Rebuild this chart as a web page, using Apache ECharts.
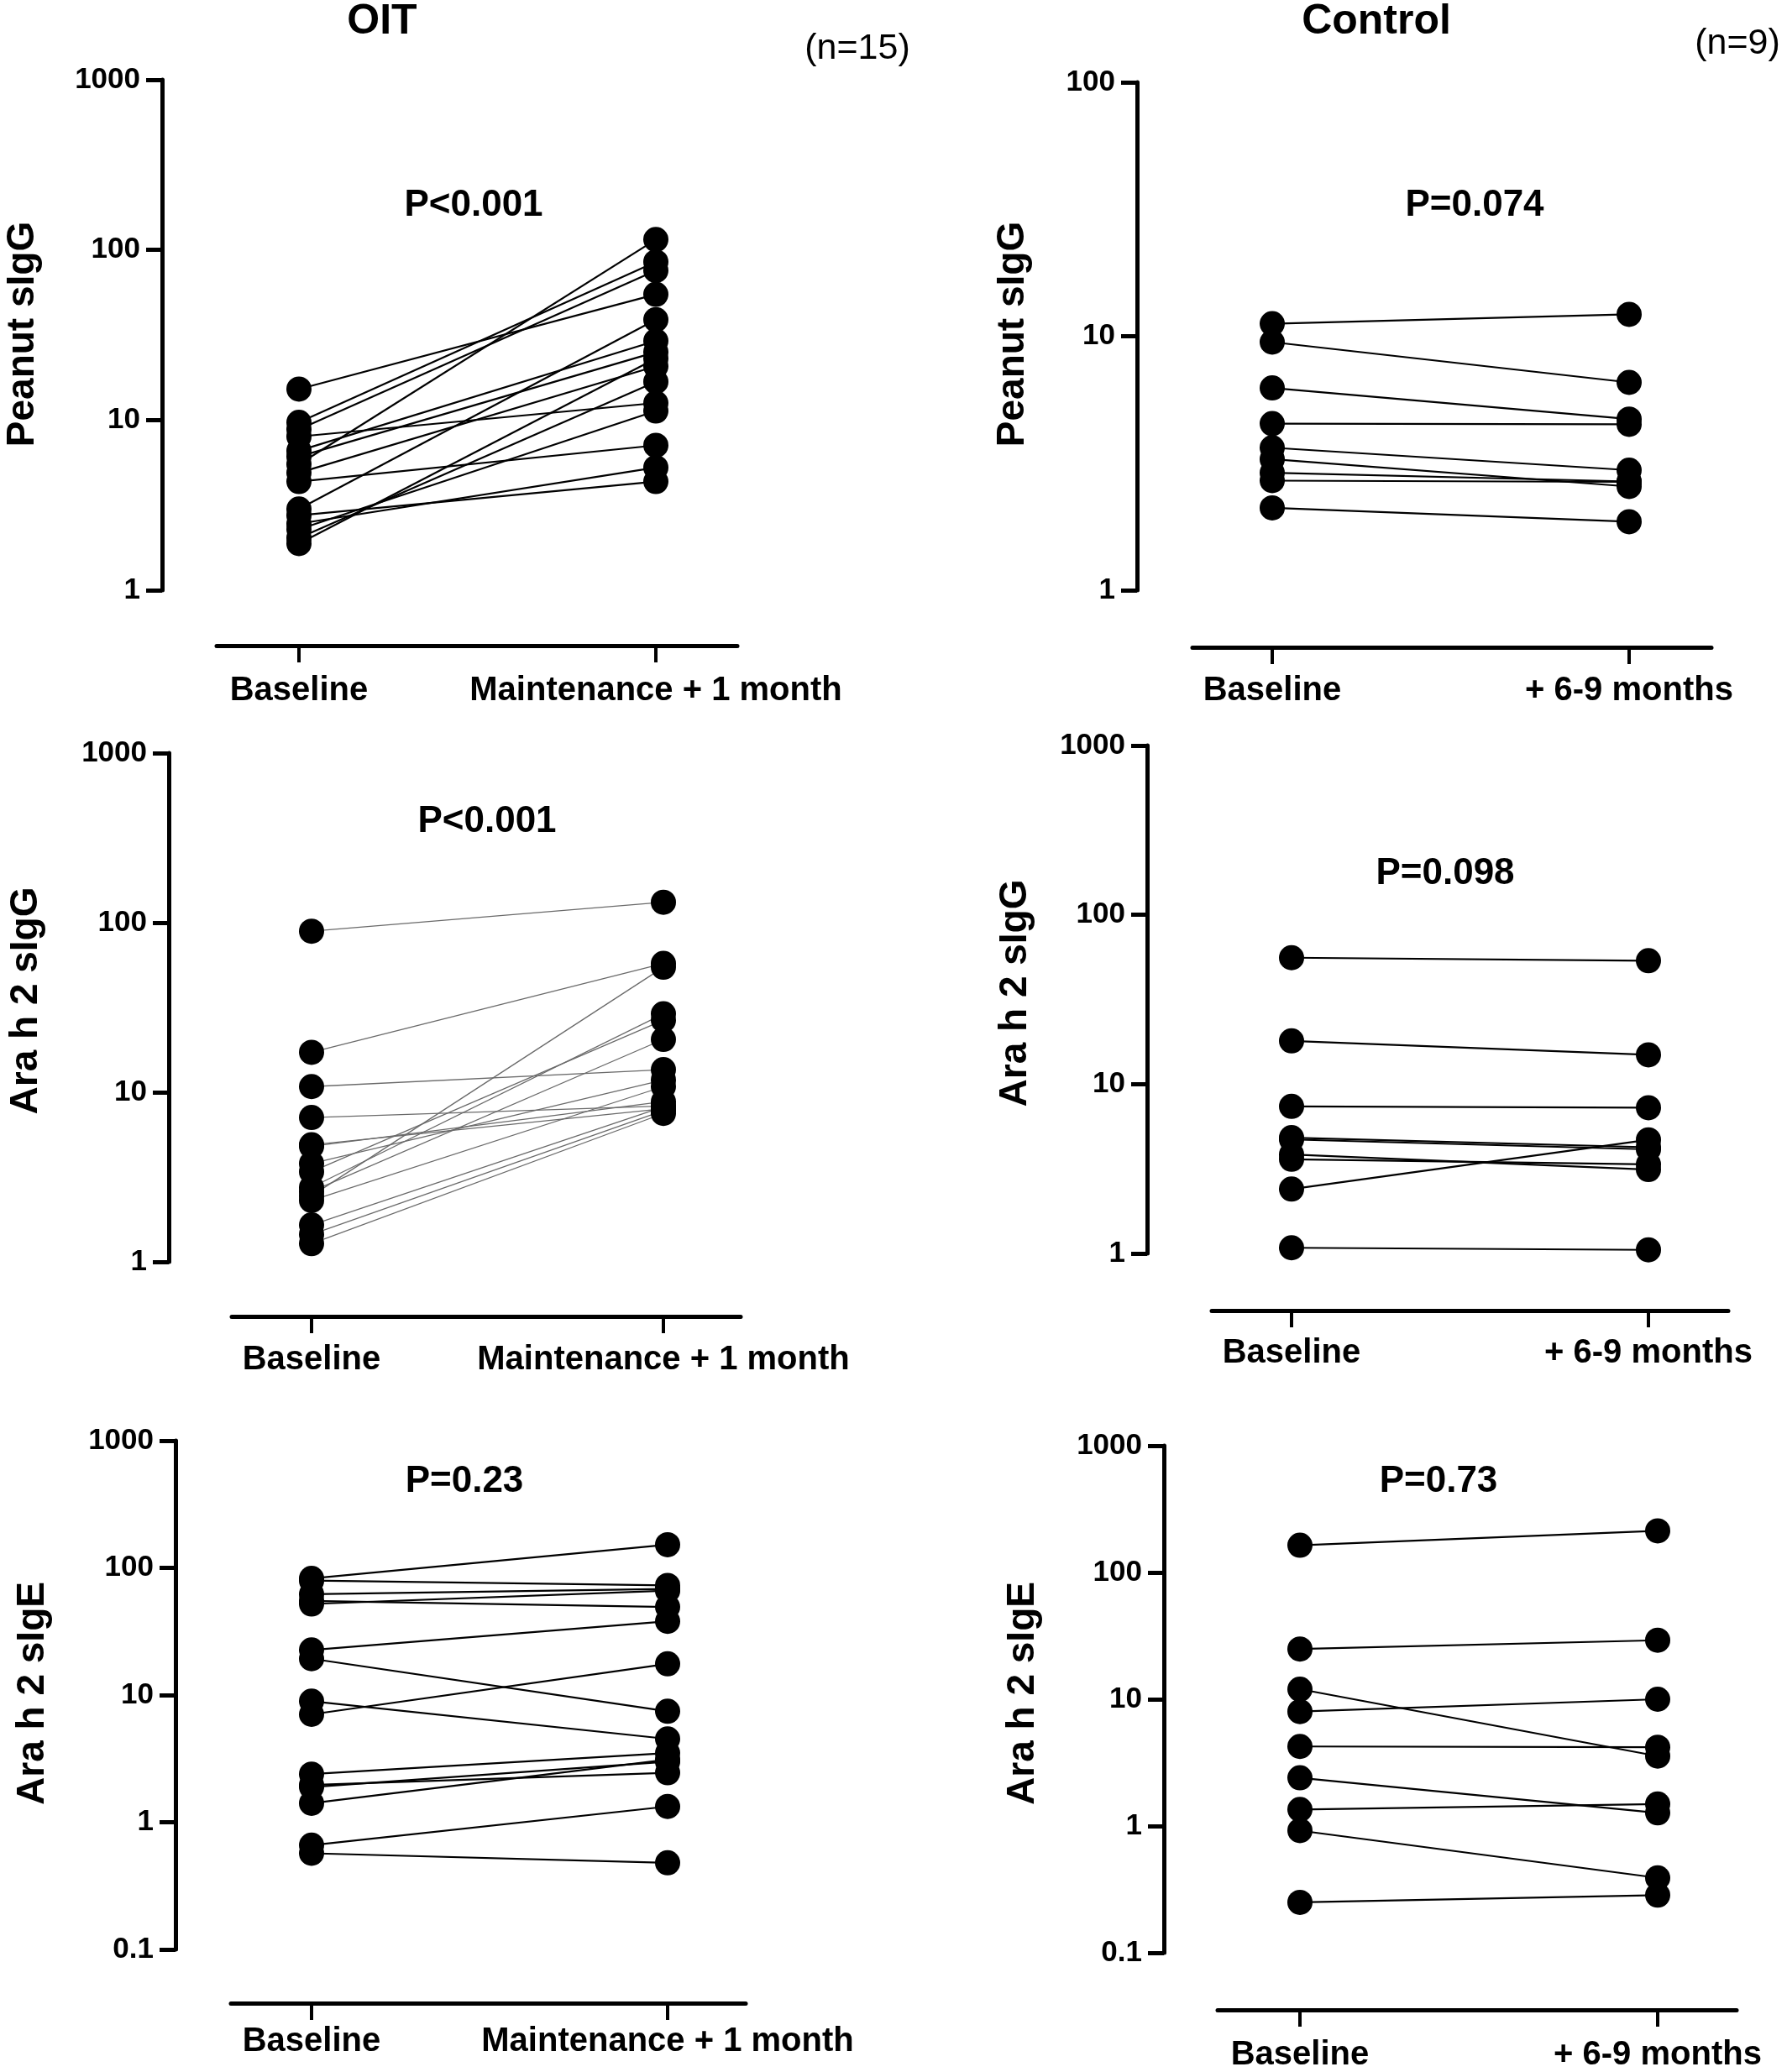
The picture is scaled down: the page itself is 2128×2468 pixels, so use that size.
<!DOCTYPE html>
<html>
<head>
<meta charset="utf-8">
<title>OIT vs Control</title>
<script src="https://cdn.jsdelivr.net/npm/echarts@6/dist/echarts.min.js"></script>
<style>
  html, body { margin: 0; padding: 0; background: #fff; }
  #chart { width: 2128px; height: 2468px; }
</style>
</head>
<body>
<div id="chart"></div>
<script>
// x-axis labels
var oitLabels = ['Baseline', 'Maintenance + 1 month'];
var ctrlLabels = ['Baseline', '+ 6-9 months'];

// OIT, peanut sIgG (n=15)
var oitPeanutBase  = [15.2, 9.7, 8.8, 8.0, 6.6, 6.1, 5.5, 4.9, 4.35, 3.0, 2.75, 2.46, 2.28, 2.03, 1.88];
var oitPeanutMaint = [54.8, 85, 75.7, 12.6, 29.2, 25.1, 115, 20.7, 7.1, 38.9, 4.35, 5.26, 11.3, 16.8, 23];

// OIT, Ara h 2 sIgG
var oitAraGBase  = [89, 17.2, 10.8, 7.1, 4.9, 4.8, 3.8, 3.4, 2.75, 2.6, 2.45, 2.3, 1.65, 1.45, 1.28];
var oitAraGMaint = [132, 57.5, 13.6, 8.3, 8.0, 8.8, 11.8, 26.6, 29, 20.5, 54.6, 10.8, 8.2, 7.8, 7.5];

// OIT, Ara h 2 sIgE
var oitAraEBase  = [82.6, 79.4, 62, 55, 52, 22.6, 19.3, 8.95, 7.05, 2.39, 1.96, 1.89, 1.41, 0.66, 0.57];
var oitAraEMaint = [152, 72.8, 68.3, 49.3, 66.2, 38, 7.45, 4.52, 17.6, 3.5, 2.45, 2.99, 3.11, 1.33, 0.48];

// Control, peanut sIgG (n=9)
var ctrlPeanutBase  = [11.2, 9.48, 6.26, 4.53, 3.64, 3.28, 2.9, 2.7, 2.11];
var ctrlPeanutLater = [12.2, 6.58, 4.72, 4.5, 2.97, 2.56, 2.68, 2.67, 1.86];

// Control, Ara h 2 sIgG
var ctrlAraGBase  = [55.8, 18, 7.39, 4.83, 4.71, 3.84, 3.6, 2.4, 1.08];
var ctrlAraGLater = [53.6, 14.9, 7.26, 4.24, 4.12, 3.13, 3.36, 4.69, 1.05];

// Control, Ara h 2 sIgE
var ctrlAraEBase  = [164, 24.9, 12, 8.0, 4.24, 2.4, 1.35, 0.92, 0.25];
var ctrlAraELater = [213, 29.2, 3.56, 10, 4.18, 1.27, 1.49, 0.39, 0.285];

var FONT = '"Liberation Sans", Arial, Helvetica, sans-serif';

// panel layout (pixels): grid box, where the y axis line sits, x-axis line y, category x positions
var panels = [
  { base: oitPeanutBase, after: oitPeanutMaint, labels: oitLabels, ymin: 1, ymax: 1000,
    left: 258, right: 878, top: 95, bottom: 703, yAxisX: 193, xAxisY: 769, c0: 356, c1: 781, lm: 34,
    title: 'Peanut sIgG', titleX: 27, titleY: 398, p: 'P<0.001', pX: 564, pY: 245, thin: false },
  { base: oitAraGBase, after: oitAraGMaint, labels: oitLabels, ymin: 1, ymax: 1000,
    left: 276, right: 882, top: 897, bottom: 1503, yAxisX: 201, xAxisY: 1568, c0: 371, c1: 790, lm: 32,
    title: 'Ara h 2 sIgG', titleX: 31, titleY: 1192, p: 'P<0.001', pX: 580, pY: 979, thin: true },
  { base: oitAraEBase, after: oitAraEMaint, labels: oitLabels, ymin: 0.1, ymax: 1000,
    left: 275, right: 888, top: 1716, bottom: 2322, yAxisX: 209, xAxisY: 2386, c0: 371, c1: 795, lm: 26,
    title: 'Ara h 2 sIgE', titleX: 39, titleY: 2017, p: 'P=0.23', pX: 553, pY: 1765, thin: false },
  { base: ctrlPeanutBase, after: ctrlPeanutLater, labels: ctrlLabels, ymin: 1, ymax: 100,
    left: 1420, right: 2038, top: 98, bottom: 703, yAxisX: 1354, xAxisY: 771, c0: 1515, c1: 1940, lm: 32,
    title: 'Peanut sIgG', titleX: 1206, titleY: 398, p: 'P=0.074', pX: 1756, pY: 245, thin: false },
  { base: ctrlAraGBase, after: ctrlAraGLater, labels: ctrlLabels, ymin: 1, ymax: 1000,
    left: 1443, right: 2058, top: 888, bottom: 1493, yAxisX: 1366, xAxisY: 1561, c0: 1538, c1: 1963, lm: 31,
    title: 'Ara h 2 sIgG', titleX: 1209, titleY: 1183, p: 'P=0.098', pX: 1721, pY: 1041, thin: false },
  { base: ctrlAraEBase, after: ctrlAraELater, labels: ctrlLabels, ymin: 0.1, ymax: 1000,
    left: 1450, right: 2068, top: 1722, bottom: 2328, yAxisX: 1386, xAxisY: 2396, c0: 1548, c1: 1974, lm: 34,
    title: 'Ara h 2 sIgE', titleX: 1218, titleY: 2017, p: 'P=0.73', pX: 1713, pY: 1765, thin: false }
];

var grids = [], xAxes = [], yAxes = [], series = [], texts = [];

function label(text, x, y, size, weight, rot) {
  return {
    type: 'text', x: x, y: y, rotation: rot || 0, silent: true,
    style: {
      text: text, fill: '#000', fontSize: size, fontWeight: weight, fontFamily: FONT,
      align: 'center', verticalAlign: 'middle', textAlign: 'center', textVerticalAlign: 'middle'
    }
  };
}

panels.forEach(function (pn, i) {
  var span = pn.c1 - pn.c0;
  grids.push({ left: pn.left, top: pn.top, width: pn.right - pn.left, height: pn.bottom - pn.top });

  xAxes.push({
    gridIndex: i, type: 'value',
    min: -(pn.c0 - pn.left) / span, max: 1 + (pn.right - pn.c1) / span,
    offset: pn.xAxisY - pn.bottom,
    axisLine: { show: true, onZero: false, lineStyle: { color: '#000', width: 5 } },
    axisTick: { show: true, length: 20, customValues: [0, 1], lineStyle: { color: '#000', width: 4 } },
    axisLabel: {
      customValues: [0, 1], margin: pn.lm, color: '#000', fontSize: 40, fontWeight: 'bold', fontFamily: FONT,
      formatter: function (v) { return pn.labels[Math.round(v)]; }
    },
    splitLine: { show: false }
  });

  yAxes.push({
    gridIndex: i, type: 'log', logBase: 10, min: pn.ymin, max: pn.ymax,
    offset: pn.left - pn.yAxisX,
    axisLine: { show: true, onZero: false, lineStyle: { color: '#000', width: 5 } },
    axisTick: { show: true, length: 19, lineStyle: { color: '#000', width: 5 } },
    minorTick: { show: false },
    axisLabel: {
      margin: 26, color: '#000', fontSize: 35, fontWeight: 'bold', fontFamily: FONT,
      formatter: function (v) { return String(v); }
    },
    splitLine: { show: false }
  });

  // one line per subject, baseline -> follow-up
  for (var k = 0; k < pn.base.length; k++) {
    series.push({
      type: 'line', xAxisIndex: i, yAxisIndex: i, silent: true, animation: false,
      data: [[0, pn.base[k]], [1, pn.after[k]]],
      symbol: 'circle', symbolSize: 30,
      itemStyle: { color: '#000' },
      lineStyle: pn.thin ? { color: '#6a6a6a', width: 1.3 } : { color: '#000', width: 2.2 }
    });
  }

  texts.push(label(pn.title, pn.titleX, pn.titleY, 46, 'bold', Math.PI / 2));
  texts.push(label(pn.p, pn.pX, pn.pY, 44, 'bold'));
});

texts.push(label('OIT', 455, 26, 50, 'bold'));
texts.push(label('Control', 1639, 26, 50, 'bold'));
texts.push(label('(n=15)', 1021, 58, 43, 'normal'));
texts.push(label('(n=9)', 2069, 52, 43, 'normal'));

var chart = echarts.init(document.getElementById('chart'), null, { renderer: 'canvas' });
chart.setOption({
  backgroundColor: '#fff',
  animation: false,
  grid: grids,
  xAxis: xAxes,
  yAxis: yAxes,
  series: series,
  graphic: { elements: texts }
});
</script>
</body>
</html>
